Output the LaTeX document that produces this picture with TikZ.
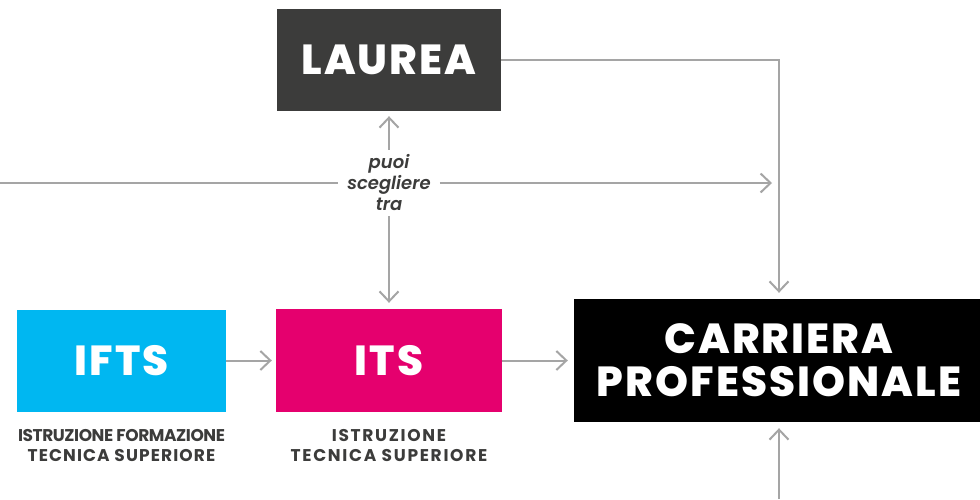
\documentclass[tikz,border=0pt]{standalone}
\usepackage{fontspec}
\setmainfont{Poppins}
\newfontfamily\boxfont{Poppins ExtraBold}
\newfontfamily\choicefont{Poppins SemiBold Italic}
\usetikzlibrary{arrows.meta}
\definecolor{laureagray}{HTML}{3C3C3B}
\definecolor{iftsblue}{HTML}{00B7F1}
\definecolor{itsmagenta}{HTML}{E5006E}
\definecolor{textgray}{HTML}{3C3C3B}
\definecolor{linkgray}{HTML}{A5A5A5}

\begin{document}
\begin{tikzpicture}[
      x=1pt,y=-1pt,
      box/.style={inner sep=0pt,text=white,align=center,
        font=\boxfont\fontsize{42}{43}\selectfont\addfontfeature{LetterSpace=5}},
      sub/.style={inner sep=0pt,text=textgray,align=center,
        font=\bfseries\fontsize{17}{20}\selectfont},
      line/.style={draw=linkgray,line width=2pt},
      link/.style={line,-{Straight Barb[length=10pt,width=19pt]}}
      ]
      \useasboundingbox[fill=white] (0,0) rectangle (980,499);
      \node[box,fill=laureagray,minimum width=224pt,minimum height=102pt] (laurea) at (389,60) {LAUREA};
      \node[box,fill=iftsblue,minimum width=209pt,minimum height=102pt] (ifts) at (121.5,360.5) {IFTS};
      \node[box,fill=itsmagenta,minimum width=226pt,minimum height=103pt] (its) at (389,360.5) {ITS};
      \node[box,fill=black,minimum width=410pt,minimum height=123pt] (carriera) at (779,360.5) {CARRIERA\\PROFESSIONALE};
      \node[sub] (iftslabel) at (121.5,445) {{\addfontfeature{LetterSpace=-2.5}ISTRUZIONE FORMAZIONE}\\
        {\addfontfeature{LetterSpace=6.5}TECNICA SUPERIORE}};
      \node[sub,font=\bfseries\fontsize{17}{20}\selectfont\addfontfeature{LetterSpace=10}] (itslabel) at (389,445) {ISTRUZIONE\\TECNICA SUPERIORE};
      \node[inner xsep=9pt,inner ysep=5pt,text=textgray,align=center,
        font=\choicefont\fontsize{18}{21}\selectfont] (choice) at (389,183) {puoi\\scegliere\\tra};
      \coordinate (leftend) at (0,183);
      \coordinate (rightend) at (772,183);
      \coordinate (bottomend) at (779,499);
      \draw[line] (leftend) -- (choice.west);
      \draw[link] (choice.east) -- (rightend);
      \draw[link,shorten >=5pt] (choice.north) -- (laurea.south);
      \draw[link,shorten >=6pt] (choice.south) -- (its.north);
      \draw[link,shorten >=4pt] (ifts.east) -- (its.west);
      \draw[link,shorten >=6pt] (its.east) -- (carriera.west);
      \draw[link,shorten >=6pt] (laurea.east) -| (carriera.north);
      \draw[link,shorten >=6pt] (bottomend) -- (carriera.south);
    \end{tikzpicture}
\end{document}
